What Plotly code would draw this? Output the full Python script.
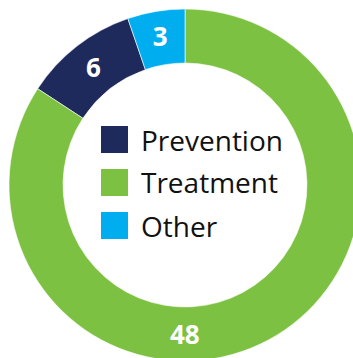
import plotly.graph_objects as go

# Data
labels = ["Prevention", "Treatment", "Other"]
values = [6, 48, 3]
colors = ["#1F2A5C", "#7DC142", "#00AEEF"]

total = sum(values)
W = H = 370
R_PX = 176
CX = CY = 185
HOLE = 0.693

fig = go.Figure(go.Pie(
    labels=labels,
    values=values,
    hole=HOLE,
    sort=False,
    direction="counterclockwise",
    rotation=-360 * (values[0] + values[2]) / total,
    marker=dict(colors=colors, line=dict(color="white", width=0.6)),
    texttemplate=["%{value}", "", "%{value}"],
    textposition="inside",
    insidetextorientation="horizontal",
    textfont=dict(family="Open Sans", size=26, color="white", weight="bold"),
    showlegend=False,
    domain=dict(x=[(CX - R_PX) / W, (CX + R_PX) / W],
                y=[(H - CY - R_PX) / H, (H - CY + R_PX) / H]),
))

# Label of the big slice, placed at the bottom of the ring
mid_r = R_PX * (1 + HOLE) / 2
annos = [dict(text=str(values[1]), xref="paper", yref="paper",
              x=CX / W, y=1 - (CY + mid_r) / H, xanchor="center", yanchor="middle",
              showarrow=False,
              font=dict(family="Open Sans", size=26, color="white", weight="bold"))]

# Legend inside the hole (swatches + labels)
sw_x0, sw_size, row0, row_gap, text_x = 101, 27, 139.5, 43, 139
shapes = []
for i, (lab, col) in enumerate(zip(labels, colors)):
    yc = row0 + i * row_gap
    shapes.append(dict(type="rect", xref="paper", yref="paper",
                       x0=sw_x0 / W, x1=(sw_x0 + sw_size) / W,
                       y0=1 - (yc + sw_size / 2) / H, y1=1 - (yc - sw_size / 2) / H,
                       fillcolor=col, line=dict(width=0)))
    annos.append(dict(text=lab, xref="paper", yref="paper", x=text_x / W, y=1 - yc / H,
                      xanchor="left", yanchor="middle", showarrow=False,
                      font=dict(family="Open Sans", size=28, color="#111111")))

fig.update_layout(
    width=W, height=H,
    margin=dict(l=0, r=0, t=0, b=0),
    paper_bgcolor="white", plot_bgcolor="white",
    shapes=shapes, annotations=annos,
)

fig.write_html("out.html", config={"displayModeBar": False},
               post_script="document.body.style.margin='0';document.body.style.overflow='hidden';document.documentElement.style.overflow='hidden';")
